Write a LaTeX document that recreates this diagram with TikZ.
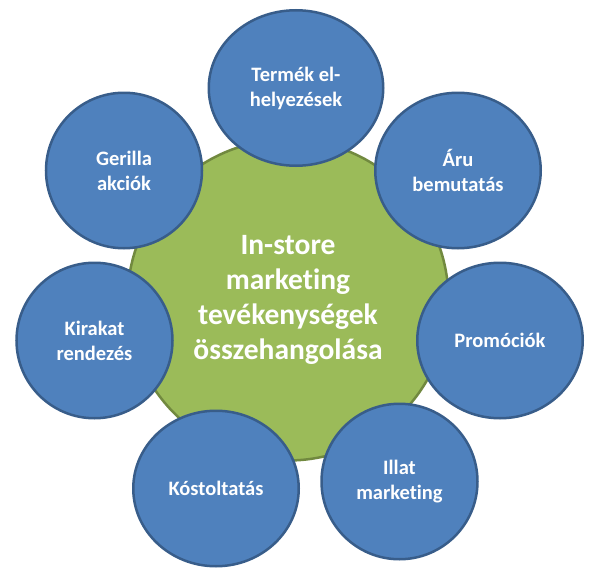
\documentclass[tikz,border=0pt]{standalone}
\usepackage{fontspec}
\setmainfont{Carlito}[Ligatures=NoCommon]
\usetikzlibrary{shapes.geometric}
\definecolor{bluefill}{HTML}{4F81BD}
\definecolor{blueline}{HTML}{385D8A}
\definecolor{greenfill}{HTML}{9BBB59}
\definecolor{greenline}{HTML}{71893F}
\begin{document}
\begin{tikzpicture}[x=1pt,y=-1pt,
  hub/.style={ellipse, fill=greenfill, draw=greenline, line width=2.5pt, inner sep=0pt,
    text=white, font=\bfseries\fontsize{29.5}{35}\selectfont, align=center},
  sat/.style={ellipse, fill=bluefill, draw=blueline, line width=2.5pt, inner sep=0pt,
    text=white, font=\bfseries\fontsize{20.5}{25}\selectfont, align=center,
    minimum height=155.5pt},
  satw/.style={sat, minimum width=165.5pt},
  satn/.style={sat, minimum width=156pt}]
\useasboundingbox (0,0) rectangle (606,570);
\node[hub, minimum width=321pt, minimum height=321pt] (hub) at (288,300)
  {In-store\\marketing\\tevékenységek\\összehangolása};
\node[sat, minimum width=174.5pt] (termek) at (296,88) {Termék el-\\helyezések};
\node[satw] (aru) at (458,170.5) {Áru\\bemutatás};
\node[satw] (promo) at (500,340.5) {Promóciók};
\node[satn] (illat) at (399.5,481.5) {Illat\\marketing};
\node[satw] (kostol) at (216,488.5) {Kóstoltatás};
\node[satn] (kirakat) at (94.5,340.5) {Kirakat\\rendezés};
\node[satn] (gerilla) at (124,170.5) {Gerilla\\akciók};
\end{tikzpicture}
\end{document}
